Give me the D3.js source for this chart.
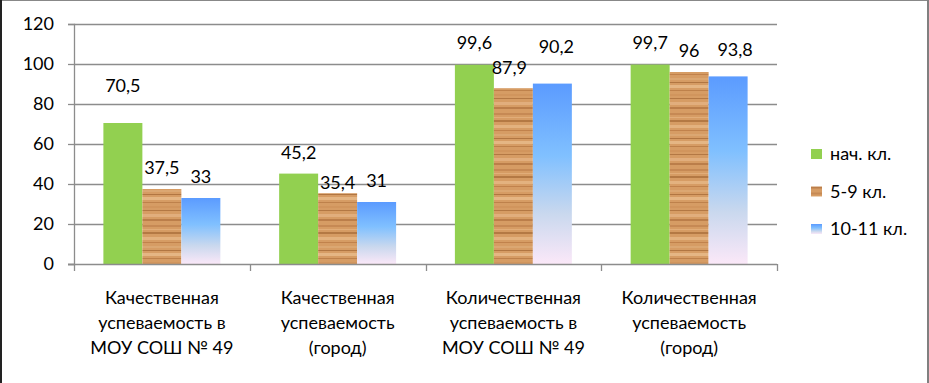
<!DOCTYPE html>
<html><head><meta charset="utf-8">
<script src="https://cdn.jsdelivr.net/npm/d3@7"></script>
<style>
html,body{margin:0;padding:0;background:#fff;}
svg{display:block;}
text{font-family:Lato,"Open Sans",sans-serif;fill:#000;}
</style></head>
<body><svg id="c" width="929" height="383"></svg>
<script>
const categories = [
  ["Качественная","успеваемость в","МОУ СОШ № 49"],
  ["Качественная","успеваемость","(город)"],
  ["Количественная","успеваемость в","МОУ СОШ № 49"],
  ["Количественная","успеваемость","(город)"]
];
const seriesNames = ["нач. кл.","5-9 кл.","10-11 кл."];
const primary = [70.5, 45.2, 99.6, 99.7];
const middle = [37.5, 35.4, 87.9, 96];
const senior = [33, 31, 90.2, 93.8];
const yTicks = [0,20,40,60,80,100,120];

// layout-only label nudges [dx, dy] (px), per series per category
const labelNudge = [
  [[0,-16],[0,0],[0,-1],[0,-1]],
  [[0,0],[0,10],[-4,0],[0,0]],
  [[0,0],[0,0],[4,-16],[7,-6]]
];

const FS = "18px";
const series = [primary, middle, senior];
const svg = d3.select("#c");
const W = 929, H = 383;
const m = {left:74, right:152, top:24, bottom:119};
const x0 = d3.scaleBand().domain(d3.range(categories.length)).range([m.left, W-m.right]).paddingInner(0.3345).paddingOuter(0.1672);
const xs = d3.scaleBand().domain(d3.range(series.length)).range([0, x0.bandwidth()]);
const y = d3.scaleLinear().domain([0,120]).range([H-m.bottom, m.top]);

const defs = svg.append("defs");
// blue gradient
const bg = defs.append("linearGradient").attr("id","blueGrad").attr("x1",0).attr("y1",0).attr("x2",0).attr("y2",1);
[[0,"#5b9bff"],[0.4,"#80c0ff"],[0.72,"#c9d8ee"],[1,"#fbe8f8"]].forEach(s=>bg.append("stop").attr("offset",s[0]).attr("stop-color",s[1]));
// wood pattern
const wp = defs.append("pattern").attr("id","wood").attr("patternUnits","userSpaceOnUse").attr("width",40).attr("height",56);
wp.append("rect").attr("width",40).attr("height",56).attr("fill","#d69c64");
const stripes = [[1,2,"#c28550"],[5,1,"#e4b27e"],[8,2,"#ab703c"],[13,3,"#e6b886"],[18,1,"#bb7c46"],[22,2,"#dcaa76"],[26,1,"#a86d3a"],[29,3,"#e9bd8c"],[34,1,"#b87a45"],[38,2,"#cf935b"],[42,1,"#aa6f3c"],[46,3,"#e3b383"],[51,2,"#b47743"]];
stripes.forEach(s=>wp.append("rect").attr("x",0).attr("y",s[0]).attr("width",40).attr("height",s[1]).attr("fill",s[2]).attr("opacity",0.8));

const fills = ["#92d050","url(#wood)","url(#blueGrad)"];

// frame
svg.append("rect").attr("x",0).attr("y",0).attr("width",W).attr("height",H).attr("fill","#fff");
svg.append("line").attr("x1",0).attr("x2",W).attr("y1",0.5).attr("y2",0.5).attr("stroke","#888");
svg.append("line").attr("x1",928).attr("x2",928).attr("y1",0).attr("y2",H).attr("stroke","#808080").attr("stroke-width",2);
svg.append("line").attr("x1",1).attr("x2",1).attr("y1",0).attr("y2",H).attr("stroke","#222").attr("stroke-width",2);

// gridlines
svg.append("g").selectAll("line").data(yTicks.filter(t=>t>0)).join("line")
  .attr("x1",m.left).attr("x2",W-m.right).attr("y1",d=>Math.round(y(d))+0.5).attr("y2",d=>Math.round(y(d))+0.5)
  .attr("stroke","#8c8c8c").attr("stroke-width",1.3);

// y axis
const ya = svg.append("g").attr("transform",`translate(${m.left},0)`)
  .call(d3.axisLeft(y).tickValues(yTicks).tickSize(6).tickPadding(14));
ya.select(".domain").attr("stroke","#8c8c8c").attr("stroke-width",1.3);
ya.selectAll(".tick line").attr("stroke","#8c8c8c").attr("stroke-width",1.3);
ya.selectAll("text").style("font-size",FS).style("font-family","Lato,sans-serif").attr("fill","#000");

// bars
const groups = svg.append("g").selectAll("g").data(series).join("g");
groups.selectAll("rect").data((d,i)=>d.map((v,j)=>({v,i,j}))).join("rect")
  .attr("x",d=>x0(d.j)+xs(d.i)).attr("width",xs.bandwidth())
  .attr("y",d=>y(d.v)).attr("height",d=>y(0)-y(d.v))
  .attr("fill",d=>fills[d.i]);

// x axis
const xb = [m.left, ...d3.range(categories.length).map(j=>x0(j)+x0.bandwidth()+x0.step()*x0.paddingInner()/2)];
svg.append("line").attr("x1",m.left-6).attr("x2",W-m.right).attr("y1",y(0)+0.5).attr("y2",y(0)+0.5).attr("stroke","#8c8c8c").attr("stroke-width",1.3);
svg.append("g").selectAll("line").data(xb).join("line")
  .attr("x1",d=>Math.round(d)+0.5).attr("x2",d=>Math.round(d)+0.5).attr("y1",y(0)).attr("y2",y(0)+7)
  .attr("stroke","#8c8c8c").attr("stroke-width",1.3);

// category labels
const cl = svg.append("g").selectAll("text").data(categories).join("text")
  .attr("text-anchor","middle").style("font-size",FS)
  .attr("transform",(d,j)=>`translate(${x0(j)+x0.bandwidth()/2},298)`);
cl.selectAll("tspan").data(d=>d).join("tspan").attr("x",0).attr("y",(d,k)=>k*25).attr("dy","0.35em").text(d=>d);

// data labels
const fmt = v=>String(v).replace(".",",");
groups.selectAll("text").data((d,i)=>d.map((v,j)=>({v,i,j}))).join("text")
  .attr("text-anchor","middle").style("font-size",FS)
  .attr("x",d=>x0(d.j)+xs(d.i)+xs.bandwidth()/2+labelNudge[d.i][d.j][0])
  .attr("y",d=>y(d.v)-21+labelNudge[d.i][d.j][1]).attr("dy","0.35em")
  .text(d=>fmt(d.v));

// legend
const lg = svg.append("g").selectAll("g").data(seriesNames).join("g")
  .attr("transform",(d,i)=>`translate(811,${154+i*37.5})`);
lg.append("rect").attr("x",0).attr("y",-5).attr("width",11).attr("height",10).attr("fill",(d,i)=>fills[i]);
lg.append("text").attr("x",19).attr("y",0).attr("dy","0.35em").style("font-size",FS).text(d=>d);
</script></body></html>
